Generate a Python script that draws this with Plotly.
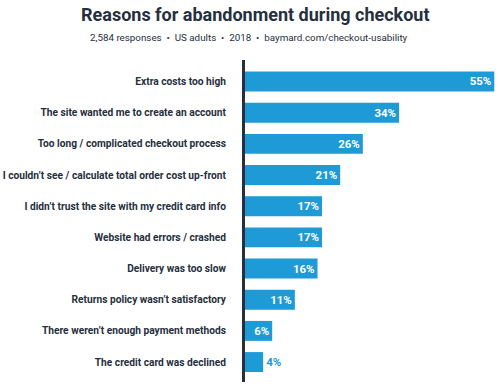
import plotly.graph_objects as go

categories = [
    "Extra costs too high",
    "The site wanted me to create an account",
    "Too long / complicated checkout process",
    "I couldn’t see / calculate total order cost up-front",
    "I didn’t trust the site with my credit card info",
    "Website had errors / crashed",
    "Delivery was too slow",
    "Returns policy wasn’t satisfactory",
    "There weren’t enough payment methods",
    "The credit card was declined",
]
values = [55, 34, 26, 21, 17, 17, 16, 11, 6, 4]
value_labels = [f"{v}%" for v in values]

title_text = "Reasons for abandonment during checkout"
sep = "\u00a0\u00a0•\u00a0\u00a0"
subtitle_text = sep.join(["2,584 responses", "US adults", "2018", "baymard.com/checkout-usability"])

BLUE = "#1e9ad6"
DARK = "#262f3d"
FONT = "Roboto"

positions = ["inside"] * (len(values) - 1) + ["outside"]

W, H = 499, 389
l, r, t, b = 245, 2, 60, 7
pw, ph = W - l - r, H - t - b

fig = go.Figure(
    go.Bar(
        x=values,
        y=categories,
        orientation="h",
        marker=dict(color=BLUE, line=dict(width=0)),
        width=0.64,
        text=value_labels,
        textposition=positions,
        insidetextanchor="end",
        insidetextfont=dict(color="white", family=FONT, size=11.5, weight="bold"),
        outsidetextfont=dict(color=BLUE, family=FONT, size=11.5, weight="bold"),
        textangle=0,
        cliponaxis=False,
        hoverinfo="skip",
    )
)

fig.update_layout(
    width=W,
    height=H,
    margin=dict(l=l, r=r, t=t, b=b, autoexpand=False),
    paper_bgcolor="white",
    plot_bgcolor="white",
    showlegend=False,
    annotations=[
        dict(text=f"<b>{title_text}</b>", x=(255 - l) / pw, y=(H - b - 14) / ph,
             xref="paper", yref="paper", showarrow=False,
             font=dict(family=FONT, size=18, color=DARK),
             xanchor="center", yanchor="middle"),
        dict(text=subtitle_text, x=(249 - l) / pw, y=(H - b - 38) / ph,
             xref="paper", yref="paper", showarrow=False,
             font=dict(family=FONT, size=9.8, color=DARK),
             xanchor="center", yanchor="middle"),
    ],
)

fig.update_xaxes(range=[0, 55.6], visible=False, fixedrange=True, automargin=False)
fig.update_yaxes(
    range=[9.64, -0.69],
    automargin=False,
    showline=True,
    linewidth=3,
    linecolor=DARK,
    showgrid=False,
    zeroline=False,
    ticks="",
    ticklabelstandoff=14,
    tickfont=dict(family=FONT, size=10.2, color=DARK, weight="bold"),
    fixedrange=True,
)

fig.write_html(
    "out.html",
    config={"displayModeBar": False, "staticPlot": True},
    post_script="document.body.style.margin='0';document.body.style.padding='0';",
)
